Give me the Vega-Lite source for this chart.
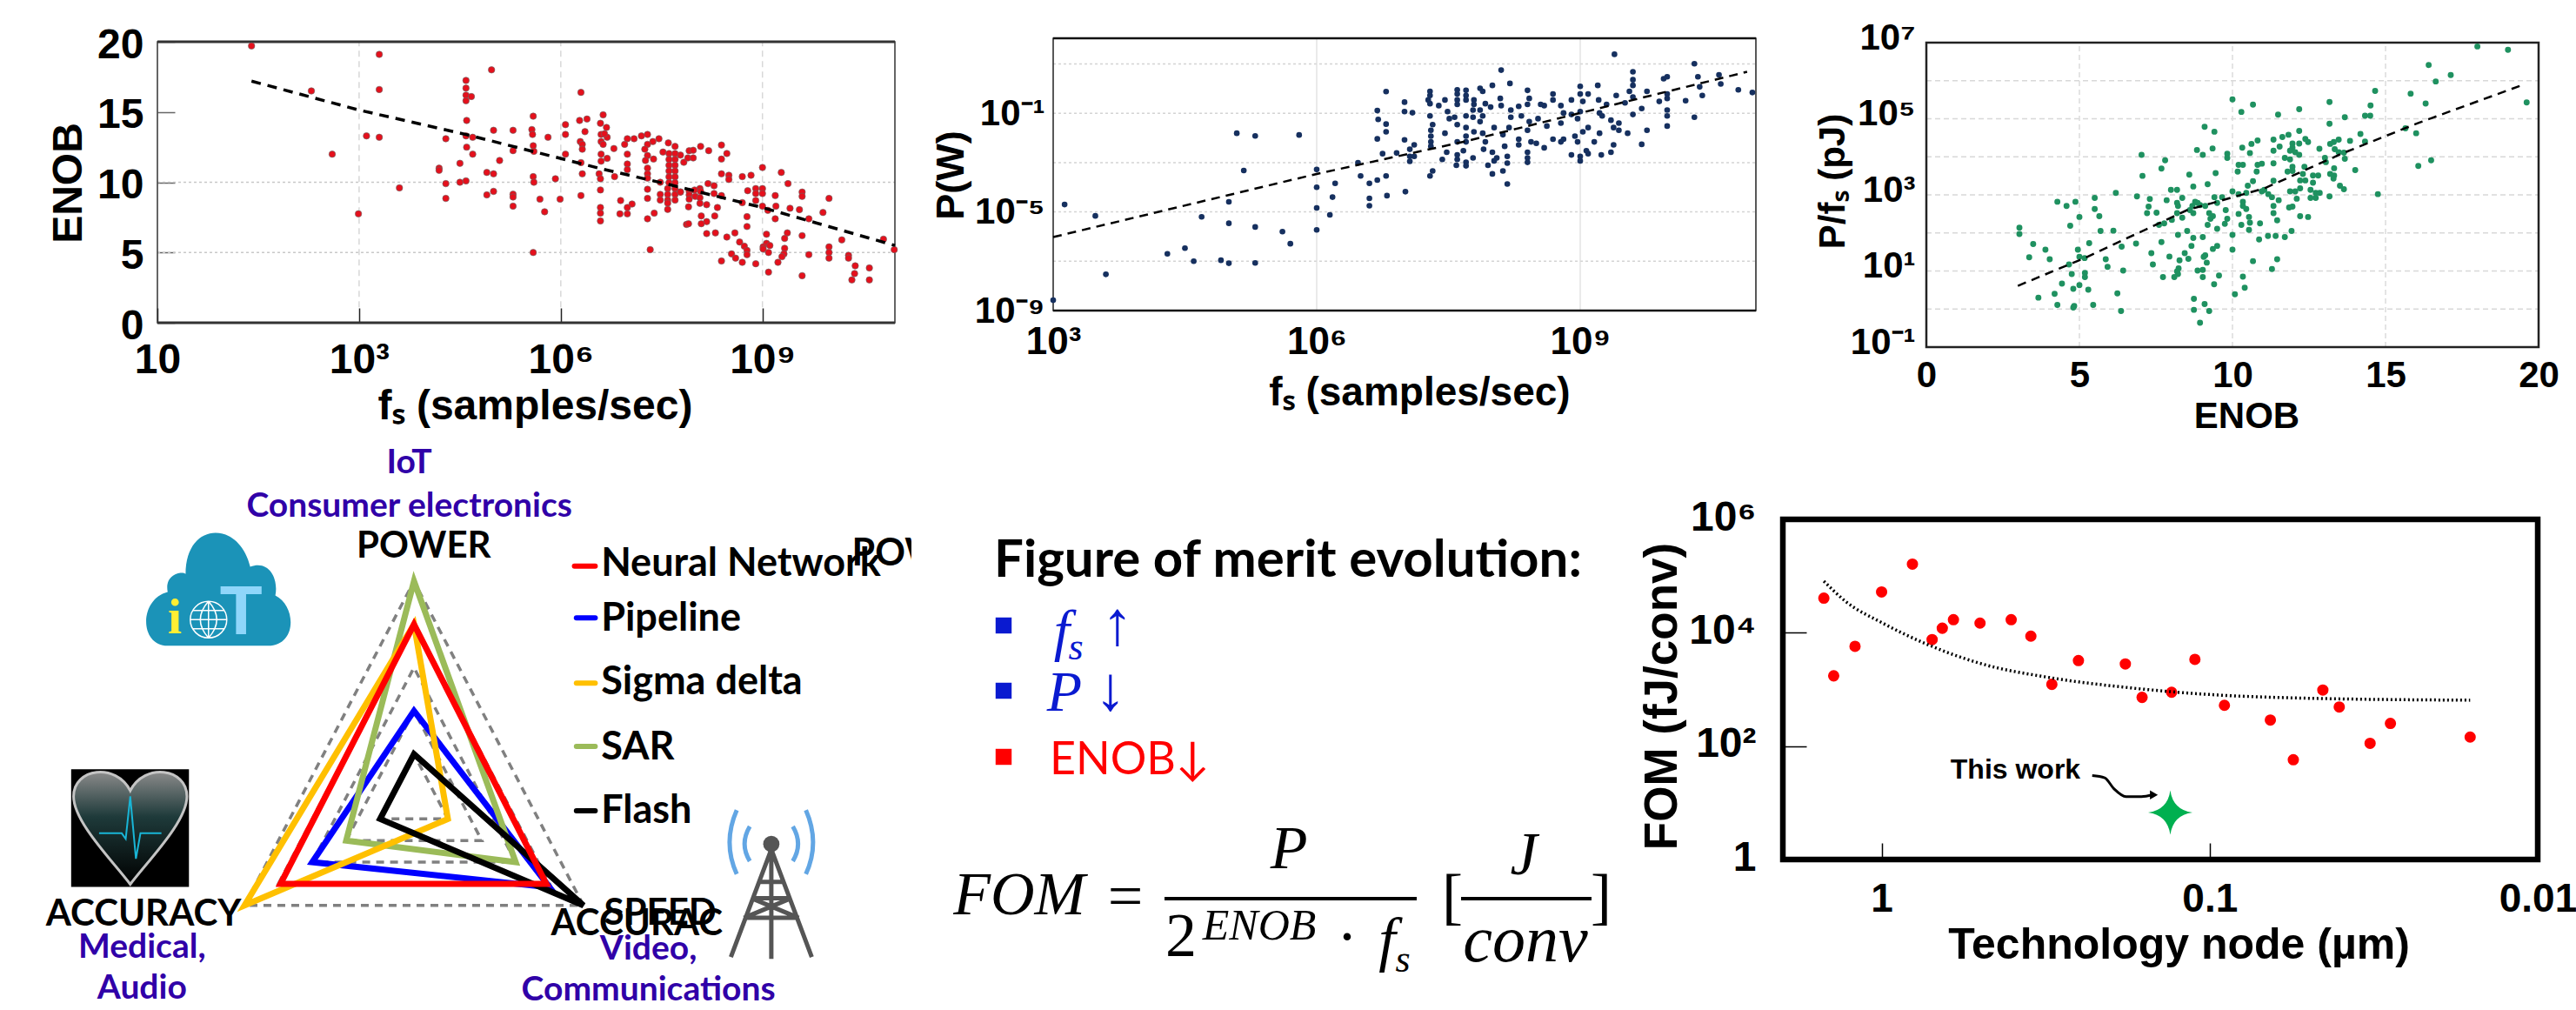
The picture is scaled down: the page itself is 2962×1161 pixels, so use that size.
{"$schema":"https://vega.github.io/schema/vega-lite/v6.json","background":"white","padding":{"left":52,"top":22,"right":0,"bottom":0},"autosize":{"type":"pad"},"config":{"view":{"stroke":null},"axis":{"grid":false,"domain":false,"labelColor":"#000","titleColor":"#000","labelOverlap":false,"labelBound":false,"labelFlush":false,"titleBaseline":"middle","labelFont":"Liberation Sans","labelFontWeight":"bold","titleFont":"Liberation Sans","titleFontWeight":"bold"}},"columns":3,"align":"each","bounds":"flush","spacing":{"row":121,"column":8},"concat":[
{"width":1022,"height":327,"encoding":{"x":{"field":"lf","type":"quantitative","scale":{"domain":[0,10.97],"range":[0,848],"nice":false,"zero":false},"axis":{"values":[0,3,6,9],"labelExpr":"datum.value==0?'10':datum.value==3?'10³':datum.value==6?'10⁶':'10⁹'","labelFontSize":48,"labelPadding":36,"tickSize":-17,"tickColor":"#222","tickWidth":1.5,"title":"fₛ (samples/sec)","titleFontSize":48,"titleX":434,"titleY":96}},"y":{"field":"enob","type":"quantitative","scale":{"domain":[0,20],"range":[327,4],"nice":false,"zero":false},"axis":{"values":[0,5,10,15,20],"labelFontSize":48,"labelPadding":36,"labelOffset":4,"tickSize":-20,"tickColor":"#666","tickWidth":1.5,"title":"ENOB","titleFontSize":48,"titleX":-102,"titleY":166}}},"layer":[
{"data":{"values":[{"lf":0,"lf2":10.97,"enob":5},{"lf":0,"lf2":10.97,"enob":10}]},"mark":{"type":"rule","stroke":"#c8c8c8","strokeWidth":1.5,"strokeDash":[3,3]},"encoding":{"x2":{"field":"lf2"}}},
{"data":{"values":[{"lf":3,"enob":1.1,"enob2":20},{"lf":6,"enob":1.1,"enob2":20},{"lf":9,"enob":1.1,"enob2":20}]},"mark":{"type":"rule","stroke":"#d8d8d8","strokeWidth":1.5,"strokeDash":[7,5]},"encoding":{"y2":{"field":"enob2"}}},
{"data":{"values":[{"lf":0,"lf2":10.97,"enob":0,"enob2":20}]},"mark":{"type":"rect","fillOpacity":0,"stroke":"#333","strokeWidth":1.5},"encoding":{"x2":{"field":"lf2"},"y2":{"field":"enob2"}}},
{"data":{"values":[{"lf":0,"lf2":10.97,"enob":0},{"lf":0,"lf2":10.97,"enob":20}]},"mark":{"type":"rule","stroke":"#333","strokeWidth":3},"encoding":{"x2":{"field":"lf2"}}},
{"data":{"values":[{"lf":1.4,"enob":19.7},{"lf":3.3,"enob":19.1},{"lf":4.97,"enob":18},{"lf":2.29,"enob":16.5},{"lf":3.3,"enob":16.6},{"lf":4.59,"enob":17.25},{"lf":4.59,"enob":16.7},{"lf":4.59,"enob":16.2},{"lf":4.67,"enob":16.1},{"lf":4.59,"enob":15.8},{"lf":6.3,"enob":16.4},{"lf":4.6,"enob":14.4},{"lf":5.59,"enob":14.7},{"lf":6.63,"enob":14.8},{"lf":6.28,"enob":14.4},{"lf":6.39,"enob":14.5},{"lf":6.07,"enob":14.1},{"lf":6.59,"enob":14.2},{"lf":6.68,"enob":13.9},{"lf":5,"enob":13.7},{"lf":5.29,"enob":13.7},{"lf":5.57,"enob":13.75},{"lf":3.11,"enob":13.3},{"lf":3.3,"enob":13.2},{"lf":4.29,"enob":13.1},{"lf":4.59,"enob":13.3},{"lf":4.69,"enob":13.2},{"lf":5.58,"enob":13.4},{"lf":5.81,"enob":13.2},{"lf":6.07,"enob":13.4},{"lf":6.36,"enob":13.6},{"lf":6.6,"enob":13.4},{"lf":6.69,"enob":13.2},{"lf":6.65,"enob":13.45},{"lf":6.29,"enob":12.9},{"lf":6.32,"enob":12.7},{"lf":6.6,"enob":12.9},{"lf":6.63,"enob":12.7},{"lf":6.99,"enob":13.1},{"lf":7.09,"enob":13.1},{"lf":7.2,"enob":13.3},{"lf":7.29,"enob":13.4},{"lf":7.46,"enob":13.1},{"lf":6.95,"enob":12.7},{"lf":7.37,"enob":12.9},{"lf":7.29,"enob":12.7},{"lf":7.6,"enob":12.8},{"lf":7.7,"enob":12.55},{"lf":8.08,"enob":12.55},{"lf":8.39,"enob":12.65},{"lf":4.6,"enob":12.5},{"lf":5.29,"enob":12.25},{"lf":5.59,"enob":12.6},{"lf":5.6,"enob":12.2},{"lf":6.32,"enob":12.35},{"lf":6.07,"enob":12},{"lf":4.69,"enob":12},{"lf":2.6,"enob":12},{"lf":5.09,"enob":11.55},{"lf":6.79,"enob":12.4},{"lf":6.6,"enob":12},{"lf":6.69,"enob":11.7},{"lf":6.6,"enob":11.5},{"lf":6.99,"enob":12},{"lf":7.25,"enob":12.35},{"lf":7.29,"enob":11.9},{"lf":7.26,"enob":11.55},{"lf":7.38,"enob":11.65},{"lf":7.52,"enob":12.15},{"lf":8.47,"enob":12.05},{"lf":8.39,"enob":11.65},{"lf":8.2,"enob":12.25},{"lf":7.91,"enob":12.24},{"lf":7.97,"enob":12.28},{"lf":7.78,"enob":11.93},{"lf":7.83,"enob":11.42},{"lf":7.89,"enob":11.73},{"lf":7.97,"enob":11.73},{"lf":7.61,"enob":12.04},{"lf":7.7,"enob":12.04},{"lf":7.61,"enob":11.62},{"lf":7.7,"enob":11.62},{"lf":7.61,"enob":11.21},{"lf":7.7,"enob":11.21},{"lf":7.61,"enob":10.8},{"lf":7.7,"enob":10.8},{"lf":7.61,"enob":10.38},{"lf":7.7,"enob":10.38},{"lf":7.61,"enob":9.97},{"lf":7.7,"enob":9.97},{"lf":7.59,"enob":9.55},{"lf":7.7,"enob":9.55},{"lf":7.78,"enob":9.31},{"lf":7.59,"enob":9.14},{"lf":7.7,"enob":9.14},{"lf":7.48,"enob":9.14},{"lf":7.48,"enob":8.73},{"lf":7.59,"enob":8.73},{"lf":7.7,"enob":8.73},{"lf":7.59,"enob":8.52},{"lf":7.59,"enob":8.07},{"lf":4.19,"enob":11},{"lf":4.19,"enob":10.85},{"lf":4.5,"enob":11.35},{"lf":6.3,"enob":11.4},{"lf":6.32,"enob":10.6},{"lf":6.57,"enob":10.6},{"lf":6.59,"enob":10.25},{"lf":6.8,"enob":10.4},{"lf":6.99,"enob":11.3},{"lf":6.99,"enob":10.9},{"lf":7.29,"enob":11},{"lf":7.29,"enob":10.6},{"lf":7.29,"enob":10.3},{"lf":4.9,"enob":10.7},{"lf":5,"enob":10.6},{"lf":5.59,"enob":10.4},{"lf":5.6,"enob":10},{"lf":5.92,"enob":10.25},{"lf":4.29,"enob":9.9},{"lf":4.5,"enob":10},{"lf":4.59,"enob":10.1},{"lf":3.6,"enob":9.6},{"lf":8.39,"enob":10.6},{"lf":8.5,"enob":10.5},{"lf":8.7,"enob":10.4},{"lf":8.83,"enob":10.5},{"lf":9,"enob":11.05},{"lf":9.28,"enob":10.7},{"lf":9.38,"enob":9.9},{"lf":8.5,"enob":10.2},{"lf":8.19,"enob":9.9},{"lf":8.28,"enob":9.75},{"lf":7.48,"enob":10},{"lf":7.29,"enob":9.5},{"lf":8.07,"enob":9.55},{"lf":7.99,"enob":9.45},{"lf":8.08,"enob":9.35},{"lf":7.91,"enob":9.35},{"lf":7.78,"enob":9.31},{"lf":7.91,"enob":9.1},{"lf":8,"enob":9},{"lf":7.91,"enob":8.8},{"lf":8.07,"enob":8.9},{"lf":8.28,"enob":9.2},{"lf":8.39,"enob":9.05},{"lf":8.78,"enob":9.4},{"lf":8.9,"enob":9.55},{"lf":9,"enob":9.55},{"lf":8.9,"enob":9.2},{"lf":9,"enob":9.2},{"lf":8.9,"enob":8.7},{"lf":9.19,"enob":9.05},{"lf":9.59,"enob":9.3},{"lf":9.59,"enob":9},{"lf":9.99,"enob":8.85},{"lf":5,"enob":9.35},{"lf":4.9,"enob":9.1},{"lf":5.29,"enob":9.15},{"lf":5.29,"enob":8.95},{"lf":6.3,"enob":9.05},{"lf":6.59,"enob":9.45},{"lf":4.29,"enob":8.85},{"lf":5.69,"enob":8.8},{"lf":5.99,"enob":8.8},{"lf":5.29,"enob":8.3},{"lf":6.89,"enob":8.7},{"lf":7.29,"enob":8.85},{"lf":7.9,"enob":8.25},{"lf":8.07,"enob":8.5},{"lf":8.17,"enob":8.4},{"lf":8.33,"enob":8.2},{"lf":8.7,"enob":8.55},{"lf":9,"enob":8.3},{"lf":9.08,"enob":8},{"lf":9.2,"enob":8.3},{"lf":9.41,"enob":8.15},{"lf":9.55,"enob":8.05},{"lf":9.9,"enob":7.85},{"lf":5.76,"enob":7.9},{"lf":6.59,"enob":8.2},{"lf":6.59,"enob":7.8},{"lf":7.06,"enob":8.45},{"lf":6.99,"enob":8.2},{"lf":6.99,"enob":7.75},{"lf":6.88,"enob":7.75},{"lf":7.39,"enob":7.8},{"lf":2.99,"enob":7.75},{"lf":6.59,"enob":7.25},{"lf":7.29,"enob":7.4},{"lf":8.09,"enob":7.6},{"lf":8.29,"enob":7.6},{"lf":8.17,"enob":7.2},{"lf":8.09,"enob":7.05},{"lf":8.77,"enob":7.55},{"lf":9.19,"enob":7.4},{"lf":8.77,"enob":6.85},{"lf":9.69,"enob":7.4},{"lf":7.87,"enob":7},{"lf":7.9,"enob":7.05},{"lf":8.17,"enob":6.35},{"lf":8.3,"enob":6.4},{"lf":8.59,"enob":6.4},{"lf":9.06,"enob":6.3},{"lf":9.37,"enob":6.4},{"lf":9.59,"enob":6.2},{"lf":8.47,"enob":6.1},{"lf":9.33,"enob":6},{"lf":10.18,"enob":5.9},{"lf":10.8,"enob":5.95},{"lf":8.66,"enob":5.75},{"lf":8.73,"enob":5.45},{"lf":9.06,"enob":5.65},{"lf":9.11,"enob":5.5},{"lf":9.01,"enob":5.4},{"lf":9.01,"enob":5.25},{"lf":9.33,"enob":5.3},{"lf":9.99,"enob":5.4},{"lf":9.99,"enob":5},{"lf":9.99,"enob":4.6},{"lf":10.96,"enob":5.2},{"lf":5.59,"enob":5},{"lf":7.33,"enob":5.2},{"lf":8.77,"enob":5.15},{"lf":8.77,"enob":4.85},{"lf":9.09,"enob":5},{"lf":9.32,"enob":4.9},{"lf":9.29,"enob":4.7},{"lf":9.69,"enob":4.85},{"lf":8.54,"enob":4.9},{"lf":8.6,"enob":4.6},{"lf":8.39,"enob":4.4},{"lf":8.7,"enob":4.3},{"lf":8.9,"enob":4.2},{"lf":9.23,"enob":4.3},{"lf":10.28,"enob":4.8},{"lf":10.28,"enob":4.6},{"lf":10.38,"enob":4.05},{"lf":10.59,"enob":3.9},{"lf":9.09,"enob":3.6},{"lf":10.37,"enob":3.5},{"lf":9.59,"enob":3.35},{"lf":10.33,"enob":3.05},{"lf":10.59,"enob":3.05}]},"mark":{"type":"point","shape":"circle","filled":true,"opacity":1,"size":56,"fill":"#e5101c","stroke":"#666","strokeWidth":0.6}},
{"data":{"values":[{"lf":1.4,"enob":17.2},{"lf":2.99,"enob":15.15},{"lf":4.59,"enob":13.4},{"lf":6.57,"enob":11},{"lf":7.6,"enob":9.85},{"lf":9,"enob":8.2},{"lf":10.97,"enob":5.5}]},"mark":{"type":"line","stroke":"#000","strokeWidth":3.5,"strokeDash":[11,8]}}
]},
{"width":831,"height":313,"encoding":{"x":{"field":"lf","type":"quantitative","scale":{"domain":[3,11],"range":[0,808],"nice":false,"zero":false},"axis":{"values":[3,6,9],"labelExpr":"datum.value==3?'10³':datum.value==6?'10⁶':'10⁹'","labelFontSize":44,"labelPadding":14,"ticks":false,"title":"fₛ (samples/sec)","titleFontSize":46,"titleX":421,"titleY":94}},"y":{"field":"lp","type":"quantitative","scale":{"domain":[-9,2.04],"range":[313,0],"nice":false,"zero":false},"axis":{"values":[-9,-5,-1],"labelExpr":"datum.value==-9?'10⁻⁹':datum.value==-5?'10⁻⁵':'10⁻¹'","labelFontSize":42,"labelPadding":10,"ticks":false,"title":"P(W)","titleFontSize":45,"titleX":-118,"titleY":157}}},"layer":[
{"data":{"values":[{"lf":3,"lf2":11,"lp":-7},{"lf":3,"lf2":11,"lp":-5},{"lf":3,"lf2":11,"lp":-3},{"lf":3,"lf2":11,"lp":-1},{"lf":3,"lf2":11,"lp":1}]},"mark":{"type":"rule","stroke":"#d4d4d4","strokeWidth":1.5,"strokeDash":[3,3]},"encoding":{"x2":{"field":"lf2"}}},
{"data":{"values":[{"lf":6,"lp":-9,"lp2":2.04},{"lf":9,"lp":-9,"lp2":2.04}]},"mark":{"type":"rule","stroke":"#dcdcdc","strokeWidth":1.2},"encoding":{"y2":{"field":"lp2"}}},
{"data":{"values":[{"lf":3,"lf2":11,"lp":-9,"lp2":2.04}]},"mark":{"type":"rect","fillOpacity":0,"stroke":"#222","strokeWidth":1.5},"encoding":{"x2":{"field":"lf2"},"y2":{"field":"lp2"}}},
{"data":{"values":[{"lf":3,"lf2":11,"lp":-9},{"lf":3,"lf2":11,"lp":2.04}]},"mark":{"type":"rule","stroke":"#111","strokeWidth":2.5},"encoding":{"x2":{"field":"lf2"}}},
{"data":{"values":[{"lf":3,"lp":-8.58},{"lf":3.13,"lp":-4.7},{"lf":3.48,"lp":-5.16},{"lf":3.6,"lp":-7.53},{"lf":4.3,"lp":-6.7},{"lf":4.5,"lp":-6.47},{"lf":4.6,"lp":-7},{"lf":4.69,"lp":-5.2},{"lf":4.91,"lp":-6.96},{"lf":5,"lp":-7.08},{"lf":5,"lp":-4.59},{"lf":5,"lp":-5.46},{"lf":5.3,"lp":-7.07},{"lf":5.3,"lp":-5.61},{"lf":5.09,"lp":-1.81},{"lf":5.3,"lp":-1.92},{"lf":5.8,"lp":-1.88},{"lf":5.17,"lp":-3.32},{"lf":5.61,"lp":-5.8},{"lf":5.7,"lp":-6.29},{"lf":6,"lp":-5.73},{"lf":6,"lp":-4.84},{"lf":6,"lp":-4},{"lf":6,"lp":-3.28},{"lf":6.15,"lp":-5.12},{"lf":6.18,"lp":-4.4},{"lf":6.21,"lp":-3.84},{"lf":6.47,"lp":-3.01},{"lf":6.5,"lp":-3.54},{"lf":6.6,"lp":-3.84},{"lf":6.69,"lp":-3.71},{"lf":6.79,"lp":-3.54},{"lf":6.6,"lp":-4.45},{"lf":6.6,"lp":-4.75},{"lf":6.8,"lp":-4.34},{"lf":7.01,"lp":-4.18},{"lf":6.79,"lp":-0.12},{"lf":6.69,"lp":-0.89},{"lf":6.7,"lp":-1.25},{"lf":6.79,"lp":-1.44},{"lf":6.79,"lp":-1.75},{"lf":6.69,"lp":-2.04},{"lf":6.75,"lp":-2.64},{"lf":6.91,"lp":-2.61},{"lf":7,"lp":-2.08},{"lf":7,"lp":-0.55},{"lf":7,"lp":-0.93},{"lf":7.09,"lp":-0.98},{"lf":7.11,"lp":-2.28},{"lf":7.06,"lp":-2.46},{"lf":7.06,"lp":-2.75},{"lf":7.11,"lp":-2.75},{"lf":7.06,"lp":-2.95},{"lf":7.29,"lp":-0.11},{"lf":7.29,"lp":-0.28},{"lf":7.27,"lp":-0.46},{"lf":7.29,"lp":-0.61},{"lf":7.39,"lp":-0.69},{"lf":7.29,"lp":-1.11},{"lf":7.32,"lp":-1.46},{"lf":7.3,"lp":-1.69},{"lf":7.3,"lp":-1.93},{"lf":7.3,"lp":-2.16},{"lf":7.3,"lp":-2.34},{"lf":7.46,"lp":-0.46},{"lf":7.49,"lp":-0.93},{"lf":7.6,"lp":-0.05},{"lf":7.6,"lp":-0.22},{"lf":7.6,"lp":-0.46},{"lf":7.6,"lp":-0.64},{"lf":7.7,"lp":-0.07},{"lf":7.7,"lp":-0.28},{"lf":7.7,"lp":-0.46},{"lf":7.79,"lp":-0.46},{"lf":7.86,"lp":0.01},{"lf":7.89,"lp":-0.11},{"lf":7.79,"lp":-0.64},{"lf":7.92,"lp":-0.61},{"lf":8,"lp":0.13},{"lf":8.1,"lp":0.75},{"lf":8.2,"lp":0.21},{"lf":8.09,"lp":-0.4},{"lf":7.98,"lp":-0.75},{"lf":8.1,"lp":-0.69},{"lf":8.21,"lp":-0.87},{"lf":8.3,"lp":-0.72},{"lf":8.4,"lp":-0.07},{"lf":8.42,"lp":-0.4},{"lf":8.55,"lp":-0.64},{"lf":8.59,"lp":-0.69},{"lf":8.69,"lp":-0.22},{"lf":8.69,"lp":-0.46},{"lf":8.78,"lp":-0.69},{"lf":8.9,"lp":-0.46},{"lf":9,"lp":0.09},{"lf":9,"lp":-0.22},{"lf":9.03,"lp":-0.52},{"lf":9.09,"lp":-0.22},{"lf":9.2,"lp":0.13},{"lf":9.21,"lp":-0.46},{"lf":9.3,"lp":-0.64},{"lf":9.41,"lp":-0.28},{"lf":9.39,"lp":1.39},{"lf":9.6,"lp":0.68},{"lf":9.6,"lp":0.36},{"lf":9.6,"lp":0.13},{"lf":9.56,"lp":-0.11},{"lf":9.76,"lp":-0.11},{"lf":9.6,"lp":-0.34},{"lf":9.9,"lp":-0.52},{"lf":9.99,"lp":-0.4},{"lf":9.99,"lp":-0.22},{"lf":9.95,"lp":0.4},{"lf":9.99,"lp":0.48},{"lf":10.3,"lp":1.01},{"lf":10.2,"lp":-0.49},{"lf":10.39,"lp":-0.28},{"lf":10.34,"lp":0.48},{"lf":10.36,"lp":0.07},{"lf":10.58,"lp":0.56},{"lf":10.6,"lp":0.19},{"lf":10.8,"lp":-0.05},{"lf":10.96,"lp":-0.16},{"lf":10.3,"lp":-1.16},{"lf":9.99,"lp":-0.87},{"lf":9.99,"lp":-1.11},{"lf":9.99,"lp":-1.52},{"lf":9.7,"lp":-0.81},{"lf":9.6,"lp":-1.05},{"lf":9.51,"lp":-0.58},{"lf":9.76,"lp":-1.69},{"lf":9.7,"lp":-2.26},{"lf":9.54,"lp":-1.81},{"lf":9.44,"lp":-1.4},{"lf":9.35,"lp":-1.28},{"lf":9.38,"lp":-1.58},{"lf":9.44,"lp":-1.69},{"lf":9.25,"lp":-1.11},{"lf":9.22,"lp":-0.99},{"lf":9.22,"lp":-1.81},{"lf":9.16,"lp":-2.16},{"lf":9.38,"lp":-2.28},{"lf":9.35,"lp":-2.58},{"lf":9.24,"lp":-2.69},{"lf":9.07,"lp":-2.52},{"lf":9.09,"lp":-2.64},{"lf":9,"lp":-2.75},{"lf":9,"lp":-2.93},{"lf":8.9,"lp":-2.69},{"lf":9.09,"lp":-1.58},{"lf":9.03,"lp":-1.75},{"lf":8.97,"lp":-1.22},{"lf":9,"lp":-0.93},{"lf":8.9,"lp":-1.05},{"lf":8.81,"lp":-0.99},{"lf":8.78,"lp":-1.4},{"lf":8.94,"lp":-1.93},{"lf":8.97,"lp":-2.16},{"lf":8.81,"lp":-2.05},{"lf":8.69,"lp":-2.05},{"lf":8.78,"lp":-2.16},{"lf":8.59,"lp":-2.4},{"lf":8.62,"lp":-1.52},{"lf":8.52,"lp":-1.22},{"lf":8.4,"lp":-0.64},{"lf":8.42,"lp":-1.34},{"lf":8.33,"lp":-1.11},{"lf":8.21,"lp":-1.16},{"lf":8.19,"lp":-1.58},{"lf":8.12,"lp":-1.87},{"lf":8.4,"lp":-1.69},{"lf":8.3,"lp":-2.05},{"lf":8.3,"lp":-2.28},{"lf":8.44,"lp":-2.16},{"lf":8.5,"lp":-2.22},{"lf":8.4,"lp":-2.58},{"lf":8.4,"lp":-2.81},{"lf":8.4,"lp":-2.99},{"lf":8.17,"lp":-2.75},{"lf":8.17,"lp":-3.02},{"lf":8.14,"lp":-2.34},{"lf":8.12,"lp":-3.34},{"lf":8,"lp":-3.46},{"lf":8.17,"lp":-3.87},{"lf":8.05,"lp":-2.81},{"lf":7.95,"lp":-3.11},{"lf":8.02,"lp":-2.93},{"lf":8,"lp":-2.58},{"lf":7.9,"lp":-2.46},{"lf":7.92,"lp":-2.16},{"lf":8.02,"lp":-1.58},{"lf":7.89,"lp":-1.81},{"lf":7.79,"lp":-1.75},{"lf":7.7,"lp":-1.58},{"lf":7.6,"lp":-1.46},{"lf":7.51,"lp":-1.22},{"lf":7.57,"lp":-1.16},{"lf":7.7,"lp":-1.11},{"lf":7.78,"lp":-1.16},{"lf":7.86,"lp":-0.87},{"lf":7.78,"lp":-0.87},{"lf":7.86,"lp":-1.34},{"lf":7.89,"lp":-1.11},{"lf":7.7,"lp":-1.93},{"lf":7.7,"lp":-2.16},{"lf":7.6,"lp":-2.16},{"lf":7.67,"lp":-2.52},{"lf":7.6,"lp":-2.69},{"lf":7.78,"lp":-2.81},{"lf":7.7,"lp":-2.99},{"lf":7.6,"lp":-2.87},{"lf":7.59,"lp":-3.11},{"lf":7.7,"lp":-3.13},{"lf":7.48,"lp":-2.58},{"lf":7.43,"lp":-2.87},{"lf":7.46,"lp":-1.81},{"lf":7.32,"lp":-3.34},{"lf":7.29,"lp":-3.54}]},"mark":{"type":"point","shape":"circle","filled":true,"opacity":1,"size":44,"fill":"#16305f"}},
{"data":{"values":[{"lf":3,"lp":-6.02},{"lf":6,"lp":-3.46},{"lf":7.67,"lp":-2.16},{"lf":9,"lp":-0.99},{"lf":10.9,"lp":0.68}]},"mark":{"type":"line","stroke":"#000","strokeWidth":2.5,"strokeDash":[10,7]}}
]},
{"width":869,"height":355,"encoding":{"x":{"field":"enob","type":"quantitative","scale":{"domain":[0,20],"range":[165,869],"nice":false,"zero":false},"axis":{"values":[0,5,10,15,20],"labelFontSize":42,"labelPadding":12,"ticks":false,"title":"ENOB","titleFontSize":42,"titleX":533,"titleY":79}},"y":{"field":"lpf","type":"quantitative","scale":{"domain":[-1,7],"range":[355,5],"nice":false,"zero":false},"axis":{"offset":-165,"values":[-1,1,3,5,7],"labelExpr":"datum.value==-1?'10⁻¹':datum.value==1?'10¹':datum.value==3?'10³':datum.value==5?'10⁵':'10⁷'","labelFontSize":42,"labelPadding":13,"labelOffset":-6,"ticks":false,"title":"P/fₛ (pJ)","titleFontSize":42,"titleX":-108,"titleY":164}}},"layer":[
{"data":{"values":[{"enob":0,"enob2":20,"lpf":0},{"enob":0,"enob2":20,"lpf":1},{"enob":0,"enob2":20,"lpf":2},{"enob":0,"enob2":20,"lpf":3},{"enob":0,"enob2":20,"lpf":4},{"enob":0,"enob2":20,"lpf":5},{"enob":0,"enob2":20,"lpf":6}]},"mark":{"type":"rule","stroke":"#d8d8d8","strokeWidth":1.5,"strokeDash":[6,4]},"encoding":{"x2":{"field":"enob2"}}},
{"data":{"values":[{"enob":5,"lpf":-1,"lpf2":7},{"enob":10,"lpf":-1,"lpf2":7},{"enob":15,"lpf":-1,"lpf2":7}]},"mark":{"type":"rule","stroke":"#dcdcdc","strokeWidth":1.5,"strokeDash":[6,4]},"encoding":{"y2":{"field":"lpf2"}}},
{"data":{"values":[{"enob":0,"enob2":20,"lpf":-1,"lpf2":7}]},"mark":{"type":"rect","fillOpacity":0,"stroke":"#222","strokeWidth":2.5},"encoding":{"x2":{"field":"enob2"},"y2":{"field":"lpf2"}}},
{"data":{"values":[{"enob":18,"lpf":6.9},{"enob":19,"lpf":6.81},{"enob":16.41,"lpf":6.41},{"enob":17.13,"lpf":6.15},{"enob":16.64,"lpf":5.98},{"enob":14.66,"lpf":5.73},{"enob":15.82,"lpf":5.66},{"enob":16.31,"lpf":5.4},{"enob":19.61,"lpf":5.43},{"enob":10,"lpf":5.51},{"enob":10.67,"lpf":5.37},{"enob":10.29,"lpf":5.18},{"enob":13.17,"lpf":5.44},{"enob":14.51,"lpf":5.35},{"enob":12.18,"lpf":5.25},{"enob":11.49,"lpf":5.11},{"enob":13.67,"lpf":5.04},{"enob":14.33,"lpf":5.08},{"enob":14.5,"lpf":5.08},{"enob":13.17,"lpf":4.87},{"enob":15.65,"lpf":4.75},{"enob":16,"lpf":4.62},{"enob":9.09,"lpf":4.79},{"enob":9.41,"lpf":4.66},{"enob":12.18,"lpf":4.68},{"enob":14.18,"lpf":4.6},{"enob":11.83,"lpf":4.58},{"enob":11.63,"lpf":4.52},{"enob":11.34,"lpf":4.45},{"enob":10.82,"lpf":4.43},{"enob":10.62,"lpf":4.34},{"enob":12.38,"lpf":4.47},{"enob":12.47,"lpf":4.39},{"enob":13.84,"lpf":4.42},{"enob":14.33,"lpf":4.4},{"enob":13.47,"lpf":4.45},{"enob":13.31,"lpf":4.39},{"enob":13.19,"lpf":4.34},{"enob":11.96,"lpf":4.35},{"enob":11.96,"lpf":4.24},{"enob":12.18,"lpf":4.35},{"enob":11.34,"lpf":4.16},{"enob":11.54,"lpf":4.27},{"enob":10.32,"lpf":4.24},{"enob":9.35,"lpf":4.22},{"enob":8.84,"lpf":4.18},{"enob":12.84,"lpf":4.21},{"enob":13.34,"lpf":4.2},{"enob":13.47,"lpf":4.12},{"enob":13.64,"lpf":4.11},{"enob":7.03,"lpf":4.05},{"enob":9.03,"lpf":4.05},{"enob":9.83,"lpf":4.08},{"enob":9.83,"lpf":3.97},{"enob":10.57,"lpf":4.1},{"enob":11.88,"lpf":4.16},{"enob":12.05,"lpf":4.12},{"enob":12.18,"lpf":4.05},{"enob":11.71,"lpf":3.97},{"enob":11.88,"lpf":3.93},{"enob":13.02,"lpf":3.97},{"enob":13.67,"lpf":3.95},{"enob":7.8,"lpf":3.91},{"enob":16.07,"lpf":3.76},{"enob":16.49,"lpf":3.91},{"enob":7.68,"lpf":3.69},{"enob":10.2,"lpf":3.79},{"enob":10.34,"lpf":3.79},{"enob":10.82,"lpf":3.79},{"enob":10.96,"lpf":3.82},{"enob":11.34,"lpf":3.83},{"enob":11.96,"lpf":3.74},{"enob":11.96,"lpf":3.63},{"enob":12.35,"lpf":3.74},{"enob":13.05,"lpf":3.86},{"enob":13.32,"lpf":3.7},{"enob":13.19,"lpf":3.55},{"enob":13.32,"lpf":3.51},{"enob":14.01,"lpf":3.65},{"enob":7.06,"lpf":3.5},{"enob":9.45,"lpf":3.57},{"enob":8.59,"lpf":3.53},{"enob":10.17,"lpf":3.61},{"enob":10.79,"lpf":3.61},{"enob":11.8,"lpf":3.61},{"enob":12.3,"lpf":3.55},{"enob":12.63,"lpf":3.51},{"enob":12.8,"lpf":3.51},{"enob":13.3,"lpf":3.43},{"enob":12.21,"lpf":3.38},{"enob":12.38,"lpf":3.38},{"enob":12.63,"lpf":3.32},{"enob":11.34,"lpf":3.37},{"enob":10.67,"lpf":3.36},{"enob":9.19,"lpf":3.28},{"enob":8.72,"lpf":3.22},{"enob":13.51,"lpf":3.24},{"enob":13.64,"lpf":3.15},{"enob":10.5,"lpf":3.24},{"enob":11.04,"lpf":3.13},{"enob":11.17,"lpf":3.02},{"enob":10.96,"lpf":3.09},{"enob":11.88,"lpf":3.09},{"enob":12.05,"lpf":3.09},{"enob":12.21,"lpf":3.17},{"enob":12.55,"lpf":3.13},{"enob":12.72,"lpf":3.05},{"enob":12.85,"lpf":3.05},{"enob":6.19,"lpf":3.05},{"enob":10,"lpf":3.09},{"enob":10.2,"lpf":3.02},{"enob":10.45,"lpf":3.05},{"enob":7.99,"lpf":3.13},{"enob":8.19,"lpf":3.13},{"enob":14.75,"lpf":3.02},{"enob":6.88,"lpf":2.96},{"enob":5.5,"lpf":2.92},{"enob":13.17,"lpf":2.96},{"enob":7.3,"lpf":2.89},{"enob":7.85,"lpf":2.86},{"enob":8.36,"lpf":2.92},{"enob":9.41,"lpf":2.94},{"enob":9.66,"lpf":2.94},{"enob":12.1,"lpf":2.9},{"enob":12.55,"lpf":2.92},{"enob":12.72,"lpf":2.92},{"enob":11.29,"lpf":2.94},{"enob":11.51,"lpf":2.86},{"enob":4.28,"lpf":2.82},{"enob":4.87,"lpf":2.82},{"enob":4.58,"lpf":2.71},{"enob":8.19,"lpf":2.79},{"enob":8.22,"lpf":2.71},{"enob":8.78,"lpf":2.82},{"enob":8.86,"lpf":2.79},{"enob":8.69,"lpf":2.71},{"enob":8.94,"lpf":2.73},{"enob":9.11,"lpf":2.71},{"enob":9.5,"lpf":2.79},{"enob":10.34,"lpf":2.82},{"enob":10.34,"lpf":2.71},{"enob":11.34,"lpf":2.71},{"enob":11.85,"lpf":2.67},{"enob":11.96,"lpf":2.69},{"enob":7.26,"lpf":2.69},{"enob":5.5,"lpf":2.63},{"enob":10.45,"lpf":2.63},{"enob":11.34,"lpf":2.52},{"enob":7.21,"lpf":2.52},{"enob":7.52,"lpf":2.53},{"enob":8.19,"lpf":2.52},{"enob":8.72,"lpf":2.52},{"enob":8.61,"lpf":2.6},{"enob":9.24,"lpf":2.52},{"enob":9.78,"lpf":2.6},{"enob":10.2,"lpf":2.5},{"enob":5,"lpf":2.42},{"enob":5.65,"lpf":2.44},{"enob":12.21,"lpf":2.44},{"enob":12.47,"lpf":2.42},{"enob":8.36,"lpf":2.4},{"enob":8.02,"lpf":2.34},{"enob":9.36,"lpf":2.44},{"enob":9.28,"lpf":2.37},{"enob":10.54,"lpf":2.42},{"enob":10.9,"lpf":2.25},{"enob":11.46,"lpf":2.33},{"enob":9.83,"lpf":2.37},{"enob":4.7,"lpf":2.19},{"enob":7.6,"lpf":2.21},{"enob":7.77,"lpf":2.25},{"enob":9.19,"lpf":2.21},{"enob":9.75,"lpf":2.24},{"enob":10.29,"lpf":2.21},{"enob":10.57,"lpf":2.27},{"enob":9.5,"lpf":2.11},{"enob":10.54,"lpf":2.08},{"enob":3.04,"lpf":2.14},{"enob":3.04,"lpf":1.97},{"enob":5.69,"lpf":2.05},{"enob":6.11,"lpf":2.06},{"enob":8.52,"lpf":2.05},{"enob":8.22,"lpf":1.95},{"enob":10,"lpf":1.95},{"enob":11.93,"lpf":2.05},{"enob":11.16,"lpf":1.92},{"enob":11.41,"lpf":1.92},{"enob":11.71,"lpf":1.89},{"enob":8.72,"lpf":1.87},{"enob":9.03,"lpf":1.89},{"enob":10.87,"lpf":1.83},{"enob":7.68,"lpf":1.76},{"enob":3.49,"lpf":1.71},{"enob":5.32,"lpf":1.73},{"enob":6.85,"lpf":1.72},{"enob":6.38,"lpf":1.64},{"enob":8.66,"lpf":1.66},{"enob":9.5,"lpf":1.66},{"enob":9.36,"lpf":1.58},{"enob":3.89,"lpf":1.56},{"enob":4.95,"lpf":1.56},{"enob":10,"lpf":1.56},{"enob":7.35,"lpf":1.47},{"enob":8.44,"lpf":1.47},{"enob":9.11,"lpf":1.41},{"enob":9.06,"lpf":1.37},{"enob":3.36,"lpf":1.36},{"enob":4.03,"lpf":1.31},{"enob":5,"lpf":1.37},{"enob":5.17,"lpf":1.34},{"enob":5.86,"lpf":1.31},{"enob":7.94,"lpf":1.38},{"enob":8.27,"lpf":1.28},{"enob":8.56,"lpf":1.32},{"enob":11.46,"lpf":1.31},{"enob":10.67,"lpf":1.26},{"enob":7.4,"lpf":1.17},{"enob":9.16,"lpf":1.22},{"enob":4.66,"lpf":1.17},{"enob":5.92,"lpf":1.11},{"enob":8.24,"lpf":1.07},{"enob":8.19,"lpf":0.99},{"enob":11.29,"lpf":1.05},{"enob":6.43,"lpf":1.01},{"enob":8.86,"lpf":1.01},{"enob":9.03,"lpf":1.03},{"enob":4.75,"lpf":0.92},{"enob":5.18,"lpf":0.95},{"enob":5.18,"lpf":0.84},{"enob":7.73,"lpf":0.84},{"enob":8.22,"lpf":0.92},{"enob":8.1,"lpf":0.84},{"enob":9.56,"lpf":0.88},{"enob":9.03,"lpf":0.84},{"enob":10.34,"lpf":0.85},{"enob":4.43,"lpf":0.67},{"enob":5,"lpf":0.63},{"enob":4.8,"lpf":0.53},{"enob":5.29,"lpf":0.51},{"enob":9.4,"lpf":0.65},{"enob":10.4,"lpf":0.56},{"enob":4.19,"lpf":0.4},{"enob":6.24,"lpf":0.41},{"enob":10.08,"lpf":0.39},{"enob":3.66,"lpf":0.3},{"enob":8.74,"lpf":0.27},{"enob":4.28,"lpf":0.11},{"enob":4.83,"lpf":0.08},{"enob":4.8,"lpf":0.04},{"enob":5.45,"lpf":0.11},{"enob":9.09,"lpf":0.13},{"enob":8.74,"lpf":-0.02},{"enob":9.24,"lpf":-0.05},{"enob":6.36,"lpf":-0.05},{"enob":8.94,"lpf":-0.36}]},"mark":{"type":"point","shape":"circle","filled":true,"opacity":1,"size":48,"fill":"#1f9160"}},
{"data":{"values":[{"enob":2.99,"lpf":0.61},{"enob":5.17,"lpf":1.34},{"enob":8.52,"lpf":2.6},{"enob":11.04,"lpf":3.17},{"enob":13.56,"lpf":4.08},{"enob":16.07,"lpf":4.89},{"enob":19.38,"lpf":5.86}]},"mark":{"type":"line","stroke":"#000","strokeWidth":2.5,"strokeDash":[10,7]}}
]},
{"width":867,"height":641,"encoding":{"x":{"field":"x","type":"quantitative","scale":{"domain":[-6.556,12.71],"range":[0,867],"nice":false,"zero":false},"axis":null},"y":{"field":"y","type":"quantitative","scale":{"domain":[-4.92,7.98],"range":[641,0],"nice":false,"zero":false},"axis":null},"color":{"field":"series","type":"nominal","scale":{"domain":["Neural Network","Pipeline","Sigma delta","SAR","Flash"],"range":["#ff0000","#0000ff","#ffc000","#9bbb59","#000000"]},"legend":null}},"layer":[
{"data":{"values":[{"ring":1,"x":0,"y":1},{"ring":1,"x":-0.866,"y":-0.5},{"ring":1,"x":0.866,"y":-0.5},{"ring":2,"x":0,"y":2},{"ring":2,"x":-1.732,"y":-1},{"ring":2,"x":1.732,"y":-1},{"ring":3,"x":0,"y":3},{"ring":3,"x":-2.598,"y":-1.5},{"ring":3,"x":2.598,"y":-1.5},{"ring":4,"x":0,"y":4},{"ring":4,"x":-3.464,"y":-2},{"ring":4,"x":3.464,"y":-2},{"ring":5,"x":0,"y":5},{"ring":5,"x":-4.33,"y":-2.5},{"ring":5,"x":4.33,"y":-2.5}]},"mark":{"type":"line","interpolate":"linear-closed","stroke":"#808080","strokeWidth":3.5,"strokeDash":[9,7]},"encoding":{"detail":{"field":"ring"},"color":{"value":"#808080"}}},
{"data":{"values":[{"series":"Pipeline","axis":"POWER","x":0,"y":2},{"series":"Pipeline","axis":"ACCURACY","x":-2.598,"y":-1.5},{"series":"Pipeline","axis":"SPEED","x":3.464,"y":-2.08},{"series":"SAR","axis":"POWER","x":0,"y":5},{"series":"SAR","axis":"ACCURACY","x":-1.732,"y":-1},{"series":"SAR","axis":"SPEED","x":2.598,"y":-1.5},{"series":"Sigma delta","axis":"POWER","x":0,"y":4},{"series":"Sigma delta","axis":"ACCURACY","x":-4.33,"y":-2.5},{"series":"Sigma delta","axis":"SPEED","x":0.866,"y":-0.5},{"series":"Flash","axis":"POWER","x":0,"y":1},{"series":"Flash","axis":"ACCURACY","x":-0.866,"y":-0.5},{"series":"Flash","axis":"SPEED","x":4.33,"y":-2.5},{"series":"Neural Network","axis":"POWER","x":0,"y":4},{"series":"Neural Network","axis":"ACCURACY","x":-3.41,"y":-2},{"series":"Neural Network","axis":"SPEED","x":3.38,"y":-2}]},"mark":{"type":"line","interpolate":"linear-closed","strokeWidth":7,"strokeJoin":"miter"}},
{"data":{"values":[{"series":"Neural Network","x":4.1,"x2":4.63,"y":5.35},{"series":"Pipeline","x":4.15,"x2":4.63,"y":4.15},{"series":"Sigma delta","x":4.15,"x2":4.63,"y":2.64},{"series":"SAR","x":4.15,"x2":4.63,"y":1.18},{"series":"Flash","x":4.15,"x2":4.63,"y":-0.31}]},"mark":{"type":"rule","strokeWidth":6,"strokeCap":"round"},"encoding":{"x2":{"field":"x2"}}},
{"data":{"values":[{"x":4.78,"y":5.41,"t":"Neural Network"},{"x":4.78,"y":4.13,"t":"Pipeline"},{"x":4.78,"y":2.67,"t":"Sigma delta"},{"x":4.78,"y":1.16,"t":"SAR"},{"x":4.78,"y":-0.31,"t":"Flash"}]},"mark":{"type":"text","align":"left","baseline":"middle","font":"Lato","fontWeight":"bold","fontSize":45},"encoding":{"text":{"field":"t"},"color":{"value":"#000"}}},
{"data":{"values":[{"x":11.19,"y":5.62,"t":"POWER"}]},"mark":{"type":"text","clip":true,"align":"left","baseline":"middle","font":"Lato","fontWeight":"bold","fontSize":43},"encoding":{"text":{"field":"t"},"color":{"value":"#000"}}},
{"data":{"values":[{"x":0.25,"y":5.81,"t":"POWER"},{"x":-6.91,"y":-2.71,"t":"ACCURACY"},{"x":6.29,"y":-2.69,"t":"SPEED"}]},"mark":{"type":"text","baseline":"middle","font":"Lato","fontWeight":"bold","fontSize":42},"encoding":{"text":{"field":"t"},"color":{"value":"#000"}}},
{"data":{"values":[{"x":3.5,"y":-2.92,"t":"ACCURAC"}]},"mark":{"type":"text","align":"left","baseline":"middle","font":"Lato","fontWeight":"bold","fontSize":42},"encoding":{"text":{"field":"t"},"color":{"value":"#000"}}},
{"data":{"values":[{"x":-0.12,"y":7.73,"t":"IoT"},{"x":-0.12,"y":6.74,"t":"Consumer electronics"},{"x":-6.95,"y":-3.47,"t":"Medical,"},{"x":-6.95,"y":-4.42,"t":"Audio"},{"x":5.99,"y":-3.51,"t":"Video,"},{"x":5.99,"y":-4.46,"t":"Communications"}]},"mark":{"type":"text","baseline":"middle","font":"Lato","fontWeight":"bold","fontSize":39},"encoding":{"text":{"field":"t"},"color":{"value":"#3000a8"}}},
{"data":{"values":[{"x":-5.01,"y":4.75,"icon":"cloud"}]},"mark":{"type":"point","filled":true,"opacity":1,"size":27225,"fill":"#1b93b8","shape":"M-0.7,0.75C-1.1,0.75,-1.1,0.1,-0.7,0C-0.75,-0.25,-0.5,-0.3,-0.45,-0.25C-0.45,-1,0.3,-1,0.45,-0.35C0.7,-0.45,0.85,-0.2,0.8,0.05C1.1,0.2,1.1,0.75,0.7,0.75Z"},"encoding":{"color":{"value":"#1b93b8"}}},
{"data":{"values":[{"x":-6.11,"y":4.13,"t":"i"}]},"mark":{"type":"text","baseline":"middle","font":"Liberation Serif","fontWeight":"bold","fontSize":58},"encoding":{"text":{"field":"t"},"color":{"value":"#ffee33"}}},
{"data":{"values":[{"x":-4.42,"y":4.26,"t":"T"}]},"mark":{"type":"text","baseline":"middle","font":"Liberation Sans","fontWeight":"bold","fontSize":80},"encoding":{"text":{"field":"t"},"color":{"value":"#8fd6fa"}}},
{"data":{"values":[{"x":-5.25,"y":4.11,"icon":"globe"}]},"mark":{"type":"point","filled":false,"opacity":1,"size":1764,"strokeWidth":1.5,"shape":"M-1,0A1,1,0,1,1,1,0A1,1,0,1,1,-1,0M-1,0L1,0M0,-1L0,1M-0.85,-0.5L0.85,-0.5M-0.85,0.5L0.85,0.5M0,-1Q-0.9,0,0,1M0,-1Q0.9,0,0,1"},"encoding":{"color":{"value":"#ffffff"}}},
{"data":{"values":[{"x":-8.76,"x2":-5.75,"y":0.65,"y2":-2.07}]},"mark":{"type":"rect","fill":"#000"},"encoding":{"x2":{"field":"x2"},"y2":{"field":"y2"},"color":{"value":"#000"}}},
{"data":{"values":[{"x":-7.25,"y":-0.7,"icon":"heart"}]},"mark":{"type":"point","filled":true,"opacity":1,"size":17000,"stroke":"#c4c4c4","strokeWidth":3,"fill":{"gradient":"linear","x1":0,"y1":0,"x2":0,"y2":1,"stops":[{"offset":0,"color":"#8a8a8a"},{"offset":0.4,"color":"#1e3a3a"},{"offset":1,"color":"#000000"}]},"shape":"M0,1C-0.3,0.6,-1,-0.1,-1,-0.55C-1,-1.05,-0.25,-1.15,0,-0.65C0.25,-1.15,1,-1.05,1,-0.55C1,-0.1,0.3,0.6,0,1Z"},"encoding":{"color":{"value":null}}},
{"data":{"values":[{"x":-7.25,"y":-0.7,"icon":"ecg"}]},"mark":{"type":"point","filled":false,"opacity":1,"size":17000,"strokeWidth":2,"shape":"M-0.55,0.1L-0.15,0.1L-0.08,0.2L0,-0.55L0.1,0.55L0.18,0.1L0.55,0.1"},"encoding":{"color":{"value":"#19b5d6"}}},
{"data":{"values":[{"x":9.13,"y":-2.26,"icon":"waves"}]},"mark":{"type":"point","filled":false,"opacity":1,"size":22500,"strokeWidth":5,"shape":"M0.33,-1.05Q0.49,-0.78,0.33,-0.52M0.53,-1.3Q0.75,-0.8,0.53,-0.32M-0.33,-1.05Q-0.49,-0.78,-0.33,-0.52M-0.53,-1.3Q-0.75,-0.8,-0.53,-0.32"},"encoding":{"color":{"value":"#62a6e4"}}},
{"data":{"values":[{"x":9.13,"y":-2.26,"icon":"tower"}]},"mark":{"type":"point","filled":false,"opacity":1,"size":22500,"strokeWidth":5,"shape":"M0,-0.7L-0.62,0.95M0,-0.7L0.62,0.95M0,-0.7L0,0.98M-0.2,-0.2L0.2,-0.2M-0.3,0.05L0.3,0.05M-0.42,0.35L0.42,0.35M-0.3,0.05L0.42,0.35M0.3,0.05L-0.42,0.35"},"encoding":{"color":{"value":"#555555"}}},
{"data":{"values":[{"x":9.13,"y":-1.08,"icon":"ball"}]},"mark":{"type":"point","shape":"circle","filled":true,"opacity":1,"size":350},"encoding":{"color":{"value":"#555555"}}}
]},
{"width":831,"height":641,"encoding":{"x":{"field":"x","type":"quantitative","scale":{"domain":[0,800],"range":[-149,651],"nice":false,"zero":false},"axis":null},"y":{"field":"y","type":"quantitative","scale":{"domain":[0,560],"range":[60,620],"nice":false,"zero":false},"axis":null}},"layer":[
{"data":{"values":[{"x":81,"y":65,"t":"Figure of merit evolution:"}]},"mark":{"type":"text","align":"left","baseline":"middle","font":"Lato","fontWeight":"bold","fontSize":60,"fill":"#000"},"encoding":{"text":{"field":"t"}}},
{"data":{"values":[{"x":92,"y":139,"trend":"fs"},{"x":92,"y":214,"trend":"P"}]},"mark":{"type":"point","shape":"square","filled":true,"opacity":1,"size":340,"fill":"#0a1ad0"}},
{"data":{"values":[{"x":92,"y":290,"trend":"ENOB"}]},"mark":{"type":"point","shape":"square","filled":true,"opacity":1,"size":340,"fill":"#ff0000"}},
{"data":{"values":[{"x":159,"y":147,"t":"f"},{"x":162,"y":217,"t":"P"}]},"mark":{"type":"text","baseline":"middle","font":"Liberation Serif","fontStyle":"italic","fontSize":66,"fill":"#0a1ad0"},"encoding":{"text":{"field":"t"}}},
{"data":{"values":[{"x":175,"y":165,"t":"s"}]},"mark":{"type":"text","baseline":"middle","font":"Liberation Serif","fontStyle":"italic","fontSize":44,"fill":"#0a1ad0"},"encoding":{"text":{"field":"t"}}},
{"data":{"values":[{"x":223,"y":139,"t":"↑"},{"x":215,"y":214,"t":"↓"}]},"mark":{"type":"text","baseline":"middle","font":"Liberation Sans","fontSize":72,"fill":"#0a1ad0"},"encoding":{"text":{"field":"t"}}},
{"data":{"values":[{"x":145,"y":294,"t":"ENOB↓"}]},"mark":{"type":"text","align":"left","baseline":"middle","font":"Lato","fontSize":52,"fill":"#ff0000"},"encoding":{"text":{"field":"t"}}},
{"data":{"values":[{"x":110,"y":450,"t":"FOM"},{"x":420,"y":397,"t":"P"},{"x":533,"y":502,"t":"f"},{"x":690,"y":404,"t":"J"}]},"mark":{"type":"text","baseline":"middle","font":"Liberation Serif","fontStyle":"italic","fontSize":70,"fill":"#000"},"encoding":{"text":{"field":"t"}}},
{"data":{"values":[{"x":692,"y":502,"t":"conv"}]},"mark":{"type":"text","baseline":"middle","font":"Liberation Serif","fontStyle":"italic","fontSize":76,"fill":"#000"},"encoding":{"text":{"field":"t"}}},
{"data":{"values":[{"x":232,"y":452,"t":"="},{"x":296,"y":497,"t":"2"},{"x":608,"y":452,"t":"["},{"x":779,"y":452,"t":"]"},{"x":487,"y":499,"t":"·"}]},"mark":{"type":"text","baseline":"middle","font":"Liberation Serif","fontSize":72,"fill":"#000"},"encoding":{"text":{"field":"t"}}},
{"data":{"values":[{"x":386,"y":485,"t":"ENOB"}]},"mark":{"type":"text","baseline":"middle","font":"Liberation Serif","fontStyle":"italic","fontSize":50,"fill":"#000"},"encoding":{"text":{"field":"t"}}},
{"data":{"values":[{"x":551,"y":524,"t":"s"}]},"mark":{"type":"text","baseline":"middle","font":"Liberation Serif","fontStyle":"italic","fontSize":44,"fill":"#000"},"encoding":{"text":{"field":"t"}}},
{"data":{"values":[{"x":277,"x2":567,"y":453},{"x":618,"x2":768,"y":453}]},"mark":{"type":"rule","stroke":"#000","strokeWidth":4},"encoding":{"x2":{"field":"x2"}}}
]},
{"width":868,"height":468,"encoding":{"x":{"field":"ln","type":"quantitative","scale":{"domain":[0.301,-2],"range":[0,868],"nice":false,"zero":false},"axis":{"values":[0,-1,-2],"labelExpr":"datum.value==0?'1':datum.value==-1?'0.1':'0.01'","labelFontSize":46,"labelPadding":42,"tickSize":-19,"tickColor":"#000","tickWidth":1.5,"title":"Technology node (µm)","titleFontSize":50,"titleX":455,"titleY":98}},"y":{"field":"lfom","type":"quantitative","scale":{"domain":[0,6],"range":[468,77],"nice":false,"zero":false},"axis":{"values":[0,2,4,6],"labelExpr":"datum.value==0?'1':datum.value==2?'10²':datum.value==4?'10⁴':'10⁶'","labelFontSize":48,"labelPadding":58,"labelOffset":-2,"tickSize":-27,"tickColor":"#000","tickWidth":1.5,"title":"FOM (fJ/conv)","titleFontSize":53,"titleX":-139,"titleY":280}}},"layer":[
{"data":{"values":[{"ln":0.301,"ln2":-2,"lfom":0,"lfom2":6}]},"mark":{"type":"rect","fillOpacity":0,"stroke":"#000","strokeWidth":6.5},"encoding":{"x2":{"field":"ln2"},"y2":{"field":"lfom2"}}},
{"data":{"values":[{"ln":0.176,"lfom":4.61},{"ln":0.146,"lfom":3.24},{"ln":0.081,"lfom":3.76},{"ln":0,"lfom":4.72},{"ln":-0.094,"lfom":5.21},{"ln":-0.154,"lfom":3.88},{"ln":-0.185,"lfom":4.08},{"ln":-0.219,"lfom":4.23},{"ln":-0.3,"lfom":4.17},{"ln":-0.395,"lfom":4.23},{"ln":-0.455,"lfom":3.94},{"ln":-0.519,"lfom":3.09},{"ln":-0.6,"lfom":3.51},{"ln":-0.743,"lfom":3.45},{"ln":-0.794,"lfom":2.86},{"ln":-0.884,"lfom":2.95},{"ln":-0.955,"lfom":3.53},{"ln":-1.045,"lfom":2.72},{"ln":-1.185,"lfom":2.46},{"ln":-1.255,"lfom":1.76},{"ln":-1.345,"lfom":2.99},{"ln":-1.395,"lfom":2.69},{"ln":-1.489,"lfom":2.05},{"ln":-1.551,"lfom":2.4},{"ln":-1.794,"lfom":2.16}]},"mark":{"type":"point","shape":"circle","filled":true,"opacity":1,"size":170,"fill":"#ff0000"}},
{"data":{"values":[{"ln":0.176,"lfom":4.91},{"ln":0.107,"lfom":4.54},{"ln":0,"lfom":4.18},{"ln":-0.137,"lfom":3.8},{"ln":-0.3,"lfom":3.46},{"ln":-0.511,"lfom":3.21},{"ln":-0.755,"lfom":3.03},{"ln":-1,"lfom":2.91},{"ln":-1.26,"lfom":2.85},{"ln":-1.794,"lfom":2.81}]},"mark":{"type":"line","stroke":"#000","strokeWidth":3.5,"strokeDash":[2,3],"interpolate":"monotone"}},
{"data":{"values":[{"ln":-0.88,"lfom":0.83,"name":"This work"}]},"mark":{"type":"point","filled":true,"opacity":1,"size":2600,"fill":"#00b050","shape":"M0,-1Q0.12,-0.12,1,0Q0.12,0.12,0,1Q-0.12,0.12,-1,0Q-0.12,-0.12,0,-1Z"}},
{"data":{"values":[{"ln":-0.408,"lfom":1.58,"t":"This work"}]},"mark":{"type":"text","baseline":"middle","font":"Liberation Sans","fontWeight":"bold","fontSize":32,"fill":"#000"},"encoding":{"text":{"field":"t"}}},
{"data":{"values":[{"ln":-0.642,"lfom":1.48},{"ln":-0.68,"lfom":1.44},{"ln":-0.708,"lfom":1.25},{"ln":-0.745,"lfom":1.11},{"ln":-0.792,"lfom":1.11},{"ln":-0.826,"lfom":1.14}]},"mark":{"type":"line","stroke":"#000","strokeWidth":3,"interpolate":"monotone"}},
{"data":{"values":[{"ln":-0.83,"lfom":1.14}]},"mark":{"type":"point","shape":"triangle-right","filled":true,"opacity":1,"size":110,"fill":"#000"}}
]}
]}
